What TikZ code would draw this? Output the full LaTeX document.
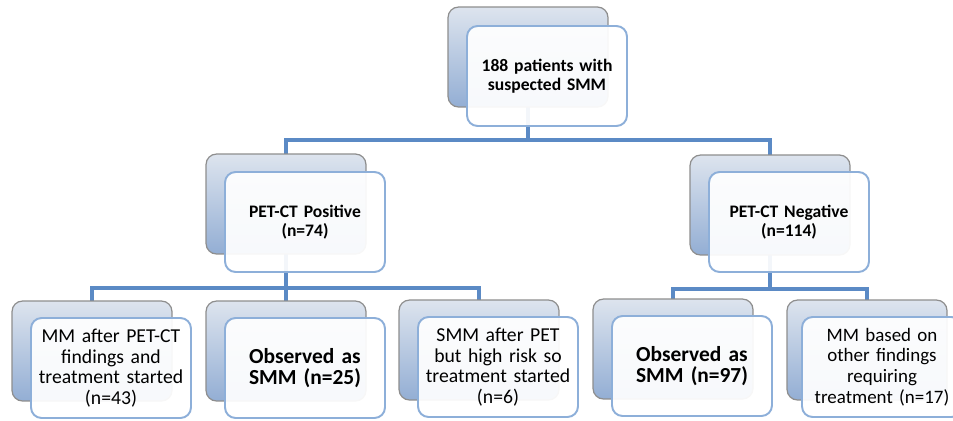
\documentclass[tikz,border=0pt]{standalone}
\usepackage{fontspec}
\setmainfont{Carlito}
\usepackage{xcolor}
\usetikzlibrary{positioning,backgrounds,calc}
\definecolor{backtop}{HTML}{DDE4EE}
\definecolor{backbot}{HTML}{93AED4}
\definecolor{backline}{HTML}{8E8E8E}
\definecolor{frontline}{HTML}{8DAFD9}
\definecolor{linkblue}{HTML}{5B8AC5}

\begin{document}
\begin{tikzpicture}[x=0.02cm, y=-0.02cm,
		backbox/.style={draw=backline, line width=0.7pt, rounded corners=6pt, top color=backtop, bottom color=backbot, minimum width=3.2cm, minimum height=2cm},
		frontbox/.style={draw=frontline, line width=1.1pt, rounded corners=6pt, fill=white, fill opacity=0.93, text opacity=1, minimum width=3.2cm, minimum height=2cm, align=center, text width=3.05cm, inner sep=0pt},
		headtext/.style={font=\fontsize{10}{11}\selectfont\bfseries},
		leaftext/.style={font=\fontsize{11.2}{11.8}\selectfont},
		bigtext/.style={font=\fontsize{12.2}{12}\selectfont\bfseries},
		link/.style={draw=linkblue, line width=2pt}]
		\useasboundingbox (0,0) rectangle (953,420);
		\clip (0,0) rectangle (953,420);
		\coordinate (bus1) at (0,140);
		\coordinate (bus2) at (0,288);
		\coordinate (bus3) at (0,289);

		\node [backbox] (top-b) at (528,57) {};
		\node [frontbox, headtext] (top) at ([shift={(19,19)}]top-b.center) {188 patients with\\suspected SMM};

		\node [backbox] (pos-b) at (286,204) {};
		\node [frontbox, headtext] (pos) at ([shift={(19,18)}]pos-b.center) {PET-CT Positive\\(n=74)};
		\node [backbox] (neg-b) at (770,205) {};
		\node [frontbox, headtext] (neg) at ([shift={(19,17)}]neg-b.center) {PET-CT Negative\\(n=114)};

		\node [backbox] (mmpet-b) at (92,351) {};
		\node [frontbox, leaftext] (mmpet) at ([shift={(19,17)}]mmpet-b.center) {MM after PET-CT\\findings and\\treatment started\\(n=43)};
		\node [backbox] (obspos-b) at (286,351) {};
		\node [frontbox, bigtext] (obspos) at ([shift={(19,17)}]obspos-b.center) {Observed as\\SMM (n=25)};
		\node [backbox] (smmrisk-b) at (479,350) {};
		\node [frontbox, leaftext] (smmrisk) at ([shift={(19,17)}]smmrisk-b.center) {SMM after PET\\but high risk so\\treatment started\\(n=6)};
		\node [backbox] (obsneg-b) at (673,349) {};
		\node [frontbox, bigtext] (obsneg) at ([shift={(19,17)}]obsneg-b.center) {Observed as\\SMM (n=97)};
		\node [backbox] (mmother-b) at (867,350) {};
		\node [frontbox, leaftext, font=\fontsize{10.8}{11.8}\selectfont] (mmother) at ([shift={(15,17)}]mmother-b.center) {MM based on\\other findings\\requiring\\treatment (n=17)};

		\begin{scope}[on background layer]
			\draw [link] (top-b.center) -- (top-b.center |- bus1) -| (pos-b.center);
			\draw [link] (top-b.center |- bus1) -| (neg-b.center);
			\draw [link] (mmpet-b.center) |- (pos-b.center |- bus2) -| (smmrisk-b.center);
			\draw [link] (pos-b.center) -- (obspos-b.center);
			\draw [link] (obsneg-b.center) |- (neg-b.center |- bus3) -| (mmother-b.center);
			\draw [link] (neg-b.center) -- (neg-b.center |- bus3);
		\end{scope}
	\end{tikzpicture}
\end{document}
